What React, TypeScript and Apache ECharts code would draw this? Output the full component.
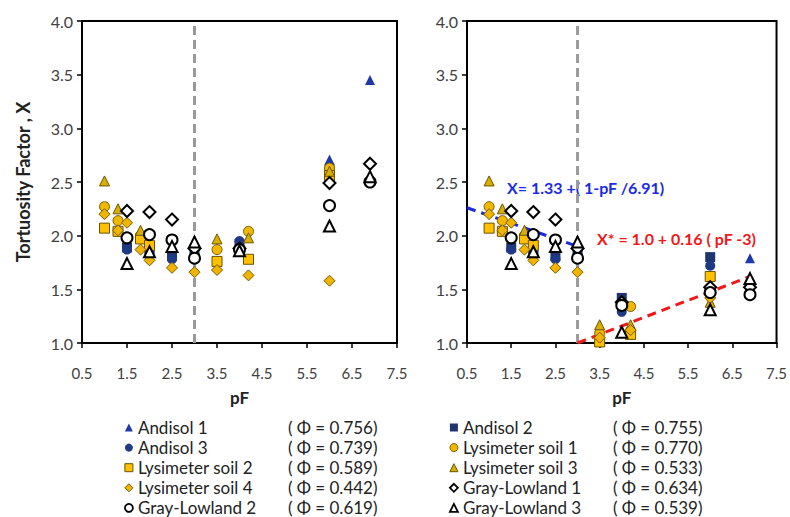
import React, { useEffect, useRef } from "react";
import * as echarts from "echarts";

// ---------- data (pF, tortuosity factor X) ----------
const xTicks = [0.5, 1.5, 2.5, 3.5, 4.5, 5.5, 6.5, 7.5];

const andisol1Left = [[1.5, 1.92], [2.0, 1.9], [2.5, 1.84], [3.0, 1.86], [4.0, 1.93], [6.0, 2.71], [6.9, 3.45]];
const andisol1Right = [[4.0, 1.38], [6.0, 1.76], [6.9, 1.79]];
const andisol2Left = [[1.5, 1.89], [2.0, 1.87], [2.5, 1.81], [3.0, 1.84], [4.0, 1.92], [6.0, 2.62]];
const andisol2Right = [[4.0, 1.42], [6.0, 1.8]];
const andisol3Left = [[1.5, 1.87], [2.0, 1.85], [2.5, 1.78], [3.0, 1.82], [4.0, 1.95], [6.0, 2.59]];
const andisol3Right = [[4.0, 1.29], [6.0, 1.72]];
const lys1Left = [[1.0, 2.27], [1.3, 2.14], [1.8, 2.0], [3.5, 1.87], [4.2, 2.04], [6.0, 2.63]];
const lys1Right = [[3.5, 1.09], [4.2, 1.34], [6.0, 1.5]];
const lys2Left = [[1.0, 2.07], [1.3, 2.04], [1.8, 1.97], [2.0, 1.91], [3.5, 1.76], [4.2, 1.78], [6.0, 2.56]];
const lys2Right = [[3.5, 1.01], [4.2, 1.08], [6.0, 1.62]];
const lys3Left = [[1.0, 2.51], [1.3, 2.25], [1.8, 2.05], [3.5, 1.97], [4.2, 1.98], [6.0, 2.6]];
const lys3Right = [[3.5, 1.17], [4.2, 1.17], [6.0, 1.38]];
const lys4Left = [[1.0, 2.2], [1.3, 2.05], [1.5, 2.12], [1.8, 1.87], [2.0, 1.77], [2.5, 1.7], [3.0, 1.66], [3.5, 1.68], [4.2, 1.63], [6.0, 1.58]];
const lys4Right = [[3.5, 1.05], [4.2, 1.12], [6.0, 1.42]];
const gl1Left = [[1.5, 2.23], [2.0, 2.22], [2.5, 2.15], [3.0, 1.88], [4.0, 1.88], [6.0, 2.49], [6.9, 2.67]];
const gl1Right = [[4.0, 1.38], [6.0, 1.52], [6.9, 1.52]];
const gl2Left = [[1.5, 1.98], [2.0, 2.01], [2.5, 1.96], [3.0, 1.79], [4.0, 1.87], [6.0, 2.28], [6.9, 2.5]];
const gl2Right = [[4.0, 1.35], [6.0, 1.47], [6.9, 1.45]];
const gl3Left = [[1.5, 1.74], [2.0, 1.85], [2.5, 1.9], [3.0, 1.94], [4.0, 1.86], [6.0, 2.09], [6.9, 2.55]];
const gl3Right = [[4.0, 1.1], [6.0, 1.31], [6.9, 1.6]];

const seriesNames = [
  "Andisol 1", "Andisol 2", "Andisol 3", "Lysimeter soil 1", "Lysimeter soil 2",
  "Lysimeter soil 3", "Lysimeter soil 4", "Gray-Lowland 1", "Gray-Lowland 2", "Gray-Lowland 3",
];
const porosity = ["0.756", "0.755", "0.739", "0.770", "0.589", "0.533", "0.442", "0.634", "0.619", "0.539"];
const leftSets = [andisol1Left, andisol2Left, andisol3Left, lys1Left, lys2Left, lys3Left, lys4Left, gl1Left, gl2Left, gl3Left];
const rightSets = [andisol1Right, andisol2Right, andisol3Right, lys1Right, lys2Right, lys3Right, lys4Right, gl1Right, gl2Right, gl3Right];

const boundaryPF = [3.0, 3.0];
const boundaryX = [1.0, 4.0];
const wetLine = [[0.5, 2.26], [3.0, 1.9]]; // X = 1.33 + (1 - pF/6.91)
const dryLine = [[3.0, 1.0], [6.9, 1.62]]; // X* = 1.0 + 0.16 (pF - 3)

// ---------- styles ----------
const styles = [
  { symbol: "triangle", size: 10, color: "#1f3aa8", border: "#1f3aa8", bw: 0 },
  { symbol: "rect", size: 10, color: "#1f3570", border: "#1f3570", bw: 0 },
  { symbol: "circle", size: 10, color: "#1f3a85", border: "#1f3a85", bw: 0 },
  { symbol: "circle", size: 10, color: "#f2b800", border: "#7a5c00", bw: 1 },
  { symbol: "rect", size: 10, color: "#ffc000", border: "#6b5200", bw: 1 },
  { symbol: "triangle", size: 10, color: "#d9ae00", border: "#6b5500", bw: 1 },
  { symbol: "diamond", size: 11, color: "#f0b400", border: "#7a5c00", bw: 1 },
  { symbol: "diamond", size: 12, color: "#ffffff", border: "#000000", bw: 2 },
  { symbol: "circle", size: 11, color: "#ffffff", border: "#000000", bw: 2 },
  { symbol: "triangle", size: 11, color: "#ffffff", border: "#000000", bw: 2 },
];

const FONT = "Lato";

export default function App() {
  const ref = useRef<HTMLDivElement>(null);
  useEffect(() => {
    document.body.style.margin = "0";
    if (!ref.current) return;
    const chart = echarts.init(ref.current, undefined, { renderer: "svg" });

    const xAxisBase = (gridIndex: number) => ({
      type: "value",
      gridIndex,
      min: xTicks[0],
      max: xTicks[xTicks.length - 1],
      interval: 1,
      name: "pF",
      nameLocation: "middle",
      nameGap: 46,
      nameTextStyle: { fontFamily: FONT, fontSize: 17, fontWeight: "bold", color: "#222" },
      axisLine: { show: true, onZero: false, lineStyle: { color: "#000", width: 2 } },
      axisTick: { show: true, length: 5, lineStyle: { color: "#000", width: 1.5 } },
      axisLabel: { fontFamily: FONT, fontSize: 15, color: "#404040", margin: 22, formatter: (v: number) => v.toFixed(1) },
      splitLine: { show: false },
    });
    const yAxisBase = (gridIndex: number, withName: boolean) => ({
      type: "value",
      gridIndex,
      min: 1,
      max: 4,
      interval: 0.5,
      name: withName ? "Tortuosity Factor , X" : "",
      nameLocation: "middle",
      nameGap: 50,
      nameTextStyle: { fontFamily: FONT, fontSize: 18, fontWeight: "bold", color: "#222" },
      axisLine: { show: true, onZero: false, lineStyle: { color: "#000", width: 2 } },
      axisTick: { show: true, length: 5, lineStyle: { color: "#000", width: 1.5 } },
      axisLabel: { fontFamily: FONT, fontSize: 16, color: "#404040", margin: 9, formatter: (v: number) => v.toFixed(1) },
      splitLine: { show: false },
    });

    const series: any[] = [];
    [0, 1].forEach((g) => {
      series.push({
        type: "line",
        xAxisIndex: g,
        yAxisIndex: g,
        data: boundaryPF.map((p, i) => [p, boundaryX[i]]),
        symbol: "none",
        lineStyle: { color: "#9a9a9a", width: 3, type: [9, 5] },
        z: 1,
        silent: true,
      });
    });
    series.push({
      type: "line", xAxisIndex: 1, yAxisIndex: 1, data: wetLine, symbol: "none",
      lineStyle: { color: "#1a2be8", width: 3, type: [9, 6] }, z: 1, silent: true,
    });
    series.push({
      type: "line", xAxisIndex: 1, yAxisIndex: 1, data: dryLine, symbol: "none",
      lineStyle: { color: "#f01818", width: 3, type: [9, 6] }, z: 1, silent: true,
    });

    seriesNames.forEach((name, i) => {
      const st = styles[i];
      const common = {
        type: "scatter",
        name,
        symbol: st.symbol,
        symbolSize: st.size,
        itemStyle: { color: st.color, borderColor: st.border, borderWidth: st.bw, opacity: 1 },
        z: 3,
      };
      series.push({ ...common, xAxisIndex: 0, yAxisIndex: 0, data: leftSets[i] });
      const rightData = leftSets[i].filter((p) => p[0] <= 3).concat(rightSets[i]);
      series.push({ ...common, xAxisIndex: 1, yAxisIndex: 1, data: rightData });
    });

    const phiOf = (name: string) => porosity[seriesNames.indexOf(name)];
    const legendBase = (left: number, names: string[]) => ({
      orient: "vertical",
      left,
      top: 419,
      height: 130,
      padding: 0,
      itemWidth: 8,
      itemHeight: 8,
      itemGap: 3.1,
      selectedMode: false,
      data: names.map((n) => {
        const st = styles[seriesNames.indexOf(n)];
        return {
          name: n,
          icon: st.symbol,
          itemStyle: {
            color: st.color,
            borderColor: st.border,
            borderWidth: st.bw === 2 ? 1.8 : st.bw,
          },
        };
      }),
      formatter: (n: string) => `{n|${n}}{p|( Φ = ${phiOf(n)})}`,
      textStyle: {
        fontFamily: FONT,
        fontSize: 17,
        color: "#222",
        rich: {
          n: { width: 150, fontFamily: FONT, fontSize: 17, color: "#222" },
          p: { fontFamily: FONT, fontSize: 17, color: "#222" },
        },
      },
    });

    chart.setOption({
      animation: false,
      backgroundColor: "#ffffff",
      grid: [
        { left: 82, top: 21, width: 315, height: 322, show: true, borderColor: "#000", borderWidth: 2, backgroundColor: "transparent" },
        { left: 467, top: 21, width: 312, height: 322, show: true, borderColor: "#000", borderWidth: 2, backgroundColor: "transparent" },
      ],
      xAxis: [xAxisBase(0), xAxisBase(1)],
      yAxis: [yAxisBase(0, true), yAxisBase(1, false)],
      legend: [
        legendBase(124, ["Andisol 1", "Andisol 3", "Lysimeter soil 2", "Lysimeter soil 4", "Gray-Lowland 2"]),
        legendBase(449, ["Andisol 2", "Lysimeter soil 1", "Lysimeter soil 3", "Gray-Lowland 1", "Gray-Lowland 3"]),
      ],
      graphic: [
        {
          type: "text", left: 507, top: 179,
          style: { text: "X= 1.33 +( 1-pF /6.91)", fill: "#1a2be8", font: `bold 16px ${FONT}` },
        },
        {
          type: "text", left: 597, top: 230,
          style: { text: "X* = 1.0 + 0.16 ( pF -3)", fill: "#f01818", font: `bold 16px ${FONT}` },
        },
      ],
      series,
    });
    return () => chart.dispose();
  }, []);
  return <div ref={ref} style={{ width: 790, height: 517 }} />;
}
